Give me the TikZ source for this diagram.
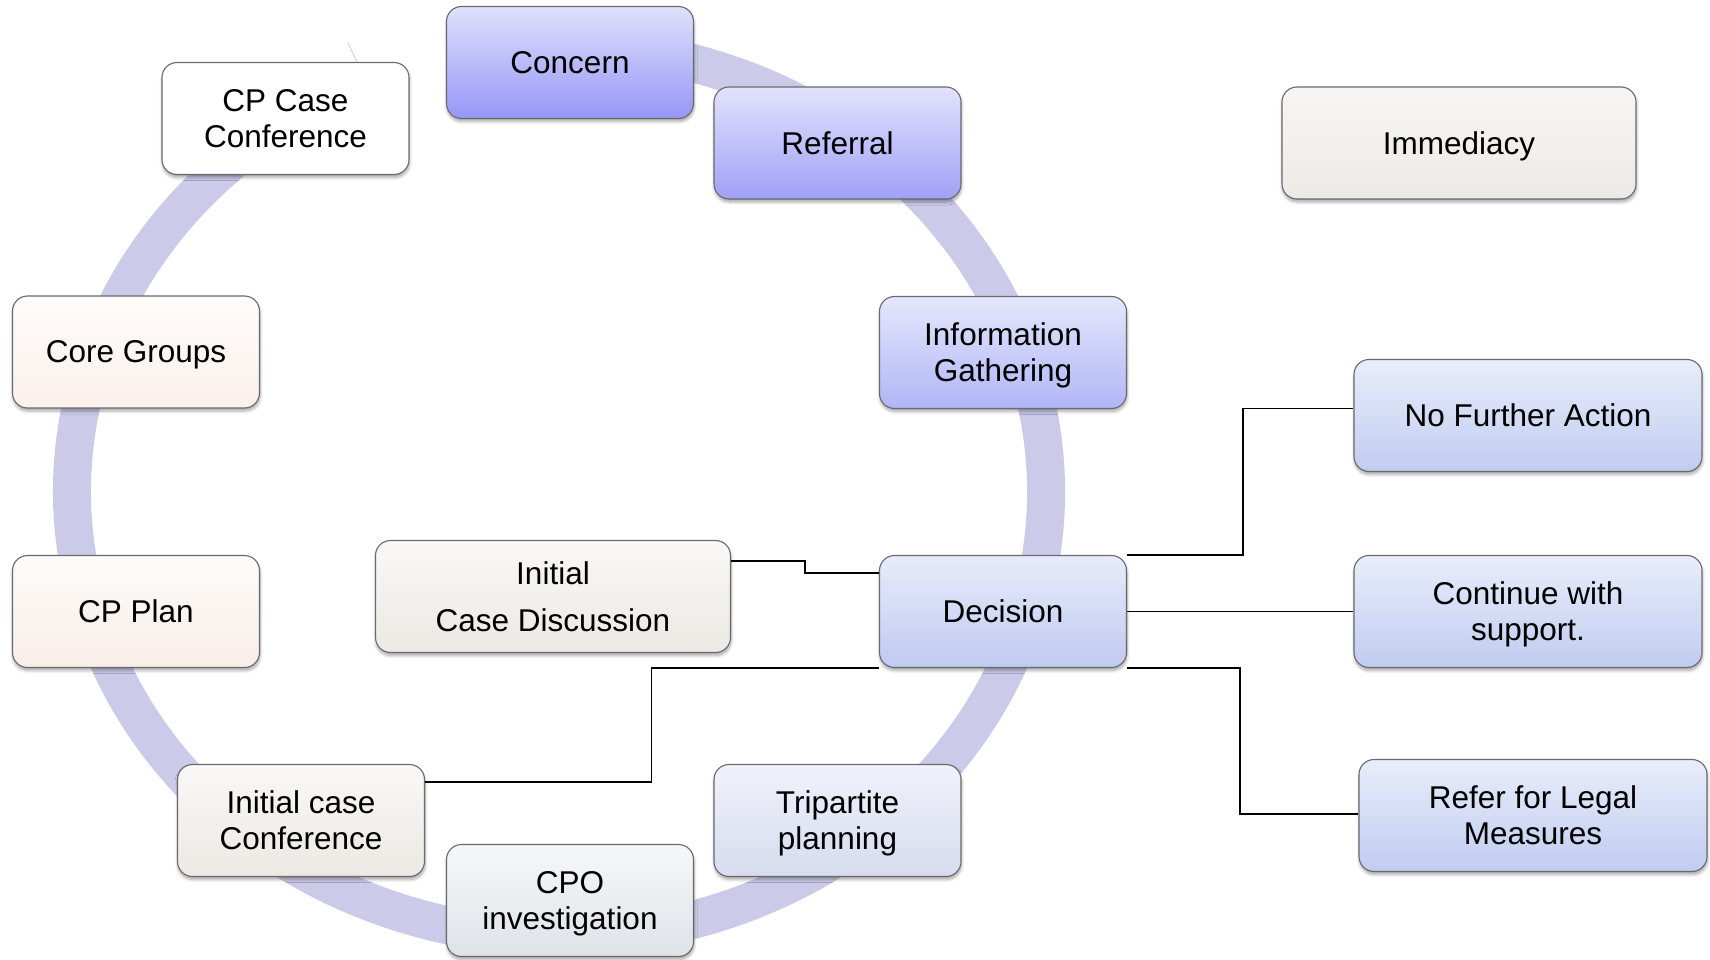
\documentclass[tikz,border=0pt]{standalone}
\usepackage{fontspec}
\setmainfont{Liberation Sans}
\usetikzlibrary{shadows.blur}
\definecolor{ringcol}{RGB}{203,203,233}
\definecolor{boxborder}{RGB}{105,105,110}
\definecolor{concT}{RGB}{224,224,252}\definecolor{concB}{RGB}{150,150,248}
\definecolor{refT}{RGB}{226,226,252}\definecolor{refB}{RGB}{160,160,248}
\definecolor{infT}{RGB}{229,231,252}\definecolor{infB}{RGB}{176,182,246}
\definecolor{decT}{RGB}{231,235,250}\definecolor{decB}{RGB}{192,202,240}
\definecolor{triT}{RGB}{240,242,250}\definecolor{triB}{RGB}{214,220,238}
\definecolor{cpoT}{RGB}{246,247,249}\definecolor{cpoB}{RGB}{222,227,232}
\definecolor{iccT}{RGB}{249,248,246}\definecolor{iccB}{RGB}{236,233,228}
\definecolor{planT}{RGB}{253,251,249}\definecolor{planB}{RGB}{248,238,232}
\definecolor{coreT}{RGB}{255,252,250}\definecolor{coreB}{RGB}{250,240,236}
\definecolor{immT}{RGB}{247,246,244}\definecolor{immB}{RGB}{237,233,229}
\definecolor{outT}{RGB}{233,237,250}\definecolor{outB}{RGB}{192,204,240}
\tikzset{
  box/.style={draw=boxborder, line width=1.1pt, rounded corners=15pt,
    minimum width=247pt, minimum height=112pt, inner sep=0pt, align=center,
    text depth=0pt,
    font=\fontsize{31.5}{36}\selectfont,
    blur shadow={shadow xshift=0.5pt, shadow yshift=-3pt, shadow blur radius=3pt, shadow blur steps=6, shadow opacity=35}},
  widebox/.style={box, minimum width=348pt},
  grad/.style n args={2}{top color=#1, bottom color=#2},
  conn/.style={draw=black, line width=1.6pt},
  ring/.style={draw=ringcol, line width=38pt}
}
\begin{document}
\begin{tikzpicture}[x=1pt,y=1pt]
\useasboundingbox (0,0) rectangle (1710,-960);
% ring (circular arrow)
\coordinate (rc) at (559,-491.5);
\draw[ring] (rc) ++(100:487 and 445.5) arc[start angle=100, end angle=-240, x radius=487, y radius=445.5];
\draw[ringcol, line width=0.8pt] (348,-43) -- (357,-62);
% cycle nodes
\node[box, grad={concT}{concB}] (concern) at (570,-62.5) {Concern};
\node[box, grad={refT}{refB}] (referral) at (837.5,-143) {Referral};
\node[box, grad={infT}{infB}] (info) at (1003,-352.5) {Information\\Gathering};
\node[box, grad={decT}{decB}] (dec) at (1003,-611.5) {Decision};
\node[box, grad={triT}{triB}] (tri) at (837.5,-820.5) {Tripartite\\planning};
\node[box, grad={cpoT}{cpoB}] (cpo) at (570,-900.5) {CPO\\investigation};
\node[box, grad={iccT}{iccB}] (icc) at (301,-820.5) {Initial case\\Conference};
\node[box, grad={planT}{planB}] (plan) at (136,-611.5) {CP Plan};
\node[box, grad={coreT}{coreB}] (core) at (136,-352) {Core Groups};
\node[box, grad={white}{white}] (cpcc) at (285.5,-118.5) {CP Case\\Conference};
% other nodes
\node[box, minimum width=355pt, grad={iccT}{iccB}] (icd) at (553,-596.5) {Initial\\[11pt]Case Discussion};
\node[box, minimum width=354pt, grad={immT}{immB}] (imm) at (1459,-143) {Immediacy};
\node[widebox, grad={outT}{outB}] (nfa) at (1528,-415.5) {No Further Action};
\node[widebox, grad={outT}{outB}] (cont) at (1528,-611.5) {Continue with\\support.};
\node[widebox, grad={outT}{outB}] (legal) at (1533,-815.5) {Refer for Legal\\Measures};
% connectors
\draw[conn] ([yshift=35.5pt]icd.east) -| (805,-567) |- ([yshift=38.5pt]dec.west);
\draw[conn] ([yshift=38.5pt]icc.east) -| (651.5,-720) |- (dec.south west);
\draw[conn] (dec.north east) -| (1243,-480) |- ([yshift=7pt]nfa.west);
\draw[conn] (dec.east) -- (cont.west);
\draw[conn] (dec.south east) -| (1240,-740) |- ([yshift=1.5pt]legal.west);
\end{tikzpicture}
\end{document}
